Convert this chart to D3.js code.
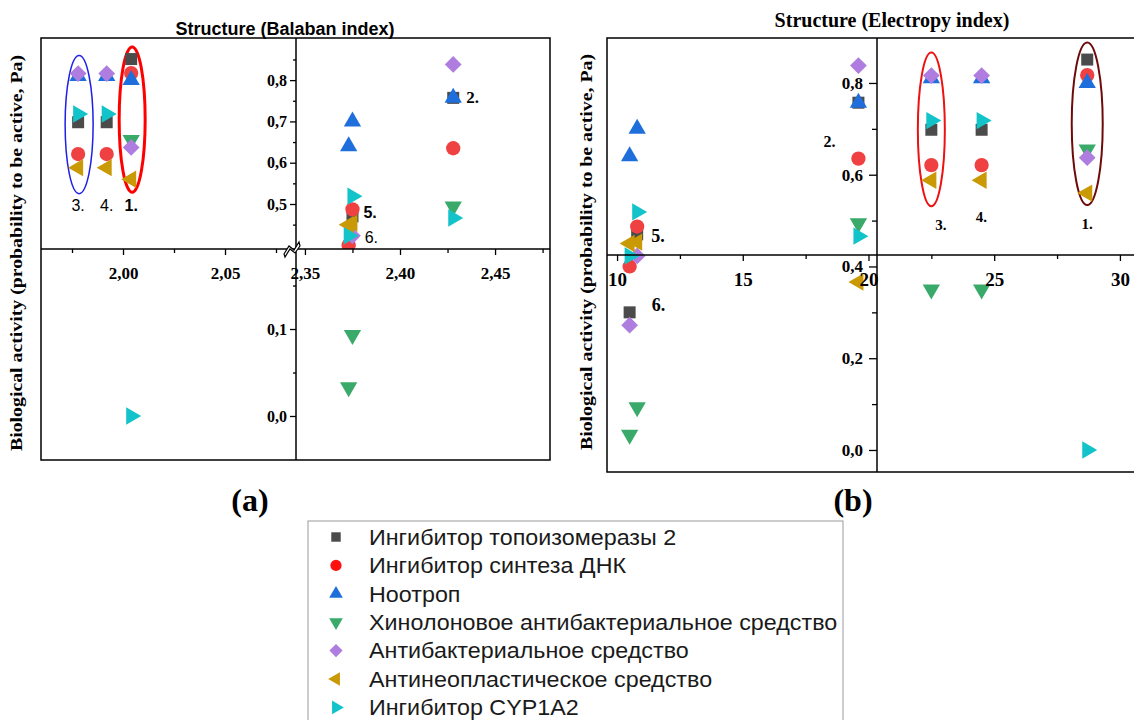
<!DOCTYPE html>
<html>
<head>
<meta charset="utf-8">
<script src="https://cdn.jsdelivr.net/npm/d3@7"></script>
<style>
  body { margin: 0; background: #fff; }
  svg { display: block; }
</style>
</head>
<body>
<svg id="chart" width="1134" height="720"></svg>
<script>
// series (activity types), in legend order
var seriesNames = ["Ингибитор топоизомеразы 2", "Ингибитор синтеза ДНК", "Ноотроп",
  "Хинолоновое антибактериальное средство", "Антибактериальное средство",
  "Антинеопластическое средство", "Ингибитор CYP1A2"];

// compounds 1..6 and their structure indices
var compounds = ["1.", "2.", "3.", "4.", "5.", "6."];
var balaban = [2.004, 2.428, 1.978, 1.992, 2.375, 2.373];
var electropy = [28.7, 19.6, 22.5, 24.5, 10.8, 10.5];

// Pa per compound (1..6) for each series
var topo2     = [0.851, 0.757, 0.698, 0.698, 0.470, 0.300];
var dnaSynth  = [0.817, 0.635, 0.621, 0.621, 0.487, 0.400];
var nootrop   = [0.800, 0.757, 0.810, 0.810, 0.700, 0.640];
var quinolone = [0.655, 0.494, 0.350, 0.350, 0.093, 0.033];
var antibact  = [0.637, 0.838, 0.816, 0.816, 0.423, 0.272];
var antineo   = [0.560, 0.366, 0.588, 0.588, 0.453, 0.450];
var cyp1a2    = [0.000, 0.466, 0.718, 0.718, 0.519, 0.423];

var seriesValues = [topo2, dnaSynth, nootrop, quinolone, antibact, antineo, cyp1a2];

var colors = ["#4b4b4b", "#ef4141", "#1e6fdc", "#3aaa6a", "#ae7ddf", "#c99a06", "#12c4c9"];
var legendColors = ["#4b4b4b", "#ff1010", "#1e6fdc", "#3aaa6a", "#ae7ddf", "#c99a06", "#12c4c9"];
var shapes = [
  {type: d3.symbolSquare, size: 144, rot: 0},
  {type: d3.symbolCircle, size: 160, rot: 0},
  {type: d3.symbolTriangle, size: 130, rot: 0},
  {type: d3.symbolTriangle, size: 130, rot: 180},
  {type: d3.symbolSquare, size: 140, rot: 45},
  {type: d3.symbolTriangle, size: 130, rot: -90},
  {type: d3.symbolTriangle, size: 130, rot: 90}
];

var points = [];
seriesValues.forEach(function(vals, s) {
  vals.forEach(function(v, c) {
    points.push({s: s, c: c, v: v});
  });
});

function comma(n) {
  return function(d) { return d3.format("." + n + "f")(d).replace(".", ","); };
}
function symPath(s, k) {
  return d3.symbol().type(shapes[s].type).size(shapes[s].size * (k || 1))();
}

var svg = d3.select("#chart");
var serif = "'Liberation Serif', 'Times New Roman', serif";
var sans = "'Liberation Sans', Arial, sans-serif";

function styleAxis(g, size) {
  g.select(".domain").remove();
  g.selectAll("line").attr("stroke", "#000").attr("stroke-width", 1.3);
  g.selectAll("text").attr("font-family", serif).attr("font-weight", "bold")
    .attr("font-size", size).attr("fill", "#000");
}

// ================= panel (a): Balaban index, broken axes =================
var xaL = d3.scaleLinear().domain([1.9598, 2.0848]).range([41, 296]);
var xaR = d3.scaleLinear().domain([2.3453, 2.4789]).range([296, 550]);
var yaU = d3.scaleLinear().domain([0.391, 0.902]).range([249, 38]);
var yaL = d3.scaleLinear().domain([-0.0506, 0.192]).range([460, 249]);

var pa = svg.append("g");
var defs = svg.append("defs");
var quads = [[xaL, yaU], [xaR, yaU], [xaL, yaL], [xaR, yaL]];
quads.forEach(function(q, i) {
  defs.append("clipPath").attr("id", "qa" + i).append("rect")
    .attr("x", q[0].range()[0]).attr("y", q[1].range()[1])
    .attr("width", q[0].range()[1] - q[0].range()[0])
    .attr("height", q[1].range()[0] - q[1].range()[1]);
});

pa.append("text").attr("x", 285).attr("y", 35).attr("text-anchor", "middle")
  .attr("font-family", sans).attr("font-weight", "bold").attr("font-size", 18)
  .text("Structure (Balaban index)");

pa.append("text").attr("transform", "translate(22,253) rotate(-90)")
  .attr("text-anchor", "middle").attr("font-family", serif).attr("font-weight", "bold")
  .attr("font-size", 17).attr("textLength", 396).attr("lengthAdjust", "spacingAndGlyphs")
  .text("Biological activity (probability to be active, Pa)");

// ellipses around compounds 3 and 1
function ellipseA(c, rx, padTop, padBot, color, w) {
  var vals = seriesValues.map(function(v) { return v[c]; }).filter(function(v) { return v > 0.5; });
  var top = yaU(d3.max(vals)) - padTop, bot = yaU(d3.min(vals)) + padBot;
  pa.append("ellipse").attr("cx", xaL(balaban[c]) + 1).attr("cy", (top + bot) / 2)
    .attr("rx", rx).attr("ry", (bot - top) / 2)
    .attr("fill", "none").attr("stroke", color).attr("stroke-width", w);
}
ellipseA(2, 14, 18, 26, "#1f1fe6", 1.5);
ellipseA(0, 13, 12, 13, "#ff0000", 3);

var gpa = pa.append("g");
quads.forEach(function(q, i) {
  gpa.append("g").attr("clip-path", "url(#qa" + i + ")")
    .selectAll("path")
    .data(points.filter(function(p) {
      var left = balaban[p.c] < 2.2, upper = p.v >= 0.3;
      return (i === 0 && left && upper) || (i === 1 && !left && upper) ||
             (i === 2 && left && !upper) || (i === 3 && !left && !upper);
    }))
    .enter().append("path")
    .attr("d", function(p) { return symPath(p.s); })
    .attr("fill", function(p) { return colors[p.s]; })
    .attr("transform", function(p) {
      return "translate(" + q[0](balaban[p.c]) + "," + q[1](p.v) + ") rotate(" + shapes[p.s].rot + ")";
    });
});

// frame and cross lines
pa.append("rect").attr("x", 41).attr("y", 38).attr("width", 509).attr("height", 422)
  .attr("fill", "none").attr("stroke", "#000").attr("stroke-width", 1.5);
pa.append("line").attr("x1", 41).attr("x2", 550).attr("y1", 249).attr("y2", 249)
  .attr("stroke", "#000").attr("stroke-width", 1.5);
pa.append("line").attr("x1", 296).attr("x2", 296).attr("y1", 38).attr("y2", 460)
  .attr("stroke", "#000").attr("stroke-width", 1.5);

// axes
[[xaL, [2.00, 2.05], [1.975, 2.025, 2.075]], [xaR, [2.35, 2.40, 2.45], [2.375, 2.425, 2.475]]]
  .forEach(function(a) {
    pa.append("g").attr("transform", "translate(0,249)")
      .call(d3.axisBottom(a[0]).tickValues(a[1]).tickSize(6).tickPadding(12).tickFormat(comma(2)))
      .call(styleAxis, 17);
    pa.append("g").attr("transform", "translate(0,249)")
      .call(d3.axisBottom(a[0]).tickValues(a[2]).tickSize(4).tickFormat(""))
      .call(styleAxis, 17);
  });
[[yaU, [0.5, 0.6, 0.7, 0.8], [0.45, 0.55, 0.65, 0.75, 0.85]], [yaL, [0.0, 0.1], [0.05, 0.15]]]
  .forEach(function(a) {
    pa.append("g").attr("transform", "translate(296,0)")
      .call(d3.axisLeft(a[0]).tickValues(a[1]).tickSize(6).tickPadding(3).tickFormat(comma(1)))
      .call(styleAxis, 16);
    pa.append("g").attr("transform", "translate(296,0)")
      .call(d3.axisLeft(a[0]).tickValues(a[2]).tickSize(3).tickFormat(""))
      .call(styleAxis, 16);
  });

// axis break mark
pa.append("path").attr("d", "M284,254 L289,246 L294,250 L299,242 L300,246 L295,253 L290,249 L285,257 Z")
  .attr("fill", "#fff").attr("stroke", "#000").attr("stroke-width", 1.2);

// compound labels
function labA(c, v, dx, txt, font, weight, size) {
  var xs = balaban[c] < 2.2 ? xaL : xaR;
  pa.append("text").attr("x", xs(balaban[c]) + dx).attr("y", yaU(v))
    .attr("text-anchor", dx === 0 ? "middle" : "start").attr("dominant-baseline", "central")
    .attr("font-family", font).attr("font-weight", weight).attr("font-size", size).text(txt);
}
labA(2, 0.497, 0, "3.", sans, "normal", 16);
labA(3, 0.497, 0, "4.", sans, "normal", 16);
labA(0, 0.497, 0, "1.", sans, "bold", 16);
labA(1, 0.757, 13, "2.", serif, "bold", 17);
labA(4, 0.48, 11, "5.", sans, "bold", 16);
labA(5, 0.42, 16, "6.", sans, "normal", 16);

pa.append("text").attr("x", 250).attr("y", 511).attr("text-anchor", "middle")
  .attr("font-family", serif).attr("font-weight", "bold").attr("font-size", 32).text("(a)");

// ================= panel (b): Electropy index =================
var xb = d3.scaleLinear().domain([9.6, 30.6]).range([607, 1135]);
var yb = d3.scaleLinear().domain([-0.048, 0.898]).range([472, 38]);
var pb = svg.append("g");

defs.append("clipPath").attr("id", "cb").append("rect")
  .attr("x", 607).attr("y", 38).attr("width", 540).attr("height", 434);

pb.append("text").attr("x", 892).attr("y", 27).attr("text-anchor", "middle")
  .attr("font-family", serif).attr("font-weight", "bold").attr("font-size", 20)
  .text("Structure (Electropy index)");

pb.append("text").attr("transform", "translate(592,252) rotate(-90)")
  .attr("text-anchor", "middle").attr("font-family", serif).attr("font-weight", "bold")
  .attr("font-size", 17).attr("textLength", 396).attr("lengthAdjust", "spacingAndGlyphs")
  .text("Biological activity (probability to be active, Pa)");

function ellipseB(c, rx, padTop, padBot, color, w) {
  var vals = seriesValues.map(function(v) { return v[c]; }).filter(function(v) { return v > 0.5; });
  var top = yb(d3.max(vals)) - padTop, bot = yb(d3.min(vals)) + padBot;
  pb.append("ellipse").attr("cx", xb(electropy[c])).attr("cy", (top + bot) / 2)
    .attr("rx", rx).attr("ry", (bot - top) / 2)
    .attr("fill", "none").attr("stroke", color).attr("stroke-width", w);
}
ellipseB(2, 13.5, 23, 26, "#ee1111", 2);
ellipseB(0, 15.5, 17, 12, "#6e0a0a", 2);

pb.append("g").attr("clip-path", "url(#cb)")
  .selectAll("path").data(points).enter().append("path")
  .attr("d", function(p) { return symPath(p.s); })
  .attr("fill", function(p) { return colors[p.s]; })
  .attr("transform", function(p) {
    return "translate(" + xb(electropy[p.c]) + "," + yb(p.v) + ") rotate(" + shapes[p.s].rot + ")";
  });

pb.append("rect").attr("x", 607).attr("y", 38).attr("width", 540).attr("height", 434)
  .attr("fill", "none").attr("stroke", "#000").attr("stroke-width", 1.5);
pb.append("line").attr("x1", 607).attr("x2", 1134).attr("y1", 255).attr("y2", 255)
  .attr("stroke", "#000").attr("stroke-width", 1.5);
pb.append("line").attr("x1", 877).attr("x2", 877).attr("y1", 38).attr("y2", 472)
  .attr("stroke", "#000").attr("stroke-width", 1.5);

pb.append("g").attr("transform", "translate(0,255)")
  .call(d3.axisBottom(xb).tickValues([10, 15, 20, 25, 30]).tickSize(6).tickPadding(12).tickFormat(d3.format("d")))
  .call(styleAxis, 19);
pb.append("g").attr("transform", "translate(0,255)")
  .call(d3.axisBottom(xb).tickValues([12.5, 17.5, 22.5, 27.5]).tickSize(4).tickFormat(""))
  .call(styleAxis, 19);
pb.append("g").attr("transform", "translate(877,0)")
  .call(d3.axisLeft(yb).tickValues([0, 0.2, 0.4, 0.6, 0.8]).tickSize(8).tickPadding(6).tickFormat(comma(1)))
  .call(styleAxis, 17);
pb.append("g").attr("transform", "translate(877,0)")
  .call(d3.axisLeft(yb).tickValues([0.1, 0.3, 0.5, 0.7]).tickSize(5).tickFormat(""))
  .call(styleAxis, 17);

function labB(c, v, dx, txt, size) {
  pb.append("text").attr("x", xb(electropy[c]) + dx).attr("y", yb(v))
    .attr("text-anchor", dx === 0 ? "middle" : "start").attr("dominant-baseline", "central")
    .attr("font-family", serif).attr("font-weight", "bold").attr("font-size", size).text(txt);
}
labB(2, 0.49, 4, "3.", 15);
labB(3, 0.508, -6, "4.", 15);
labB(0, 0.493, 0, "1.", 15);
labB(1, 0.672, -35, "2.", 16);
labB(4, 0.467, 14, "5.", 18);
labB(5, 0.316, 22, "6.", 18);

pb.append("text").attr("x", 853).attr("y", 511).attr("text-anchor", "middle")
  .attr("font-family", serif).attr("font-weight", "bold").attr("font-size", 32).text("(b)");

// ================= legend =================
var lg = svg.append("g");
lg.append("rect").attr("x", 308).attr("y", 521).attr("width", 535).attr("height", 220)
  .attr("fill", "#fff").attr("stroke", "#9a9a9a").attr("stroke-width", 1);
var rows = lg.selectAll("g.row").data(seriesNames).enter().append("g")
  .attr("transform", function(d, i) { return "translate(0," + (537 + i * 28.4) + ")"; });
rows.append("path")
  .attr("d", function(d, i) { return symPath(i, 0.62); })
  .attr("fill", function(d, i) { return legendColors[i]; })
  .attr("transform", function(d, i) { return "translate(336,0) rotate(" + shapes[i].rot + ")"; });
rows.append("text").attr("transform", "translate(369,0) scale(1.06,1)")
  .attr("dominant-baseline", "central")
  .attr("font-family", sans).attr("font-size", 22).attr("fill", "#1a1a1a")
  .text(function(d) { return d; });
</script>
</body>
</html>
